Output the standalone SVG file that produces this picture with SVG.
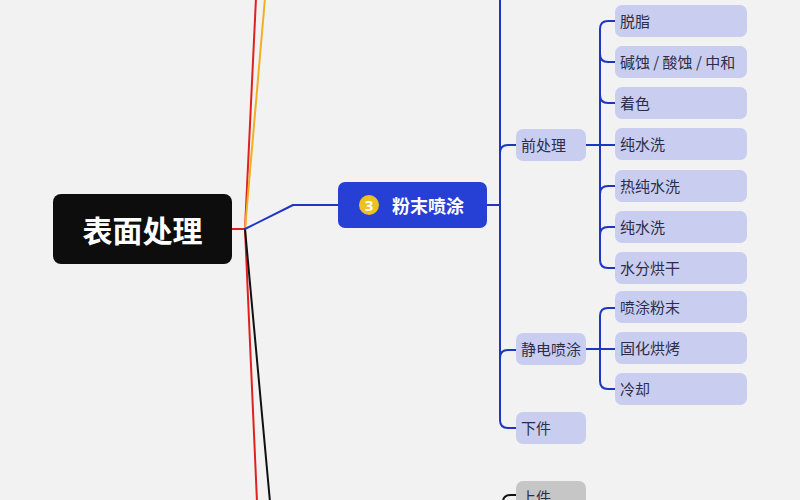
<svg xmlns="http://www.w3.org/2000/svg" width="800" height="500" viewBox="0 0 800 500">
<style>
.c{fill:none;stroke-width:2;stroke-linecap:round;stroke-linejoin:round}
.b{stroke:#1f35c4}
.t{font-family:"Noto Sans CJK SC","Noto Sans",sans-serif;font-size:15px;fill:#2b2d4a;dominant-baseline:central}
.n{fill:#c9cdef}
</style>
<rect width="800" height="500" fill="#f2f2f2"/>
<g id="connectors">
<path class="c" stroke="#e02020" d="M232 229 L245 229 L256 -2"/>
<path class="c" stroke="#f0b020" d="M245 229 L265 -2"/>
<path class="c" stroke="#e02020" d="M245 229 L257 502"/>
<path class="c" stroke="#111" d="M245 229 L270 502"/>
<path class="c b" d="M245 229 L293 205 L338 205"/>
<path class="c b" d="M487 205 L500 205"/>
<path class="c b" d="M500 -2 L500 420 Q500 428 508 428 L516 428"/>
<path class="c b" d="M500 153 Q500 145 508 145 L516 145"/>
<path class="c b" d="M500 358 Q500 350 508 350 L516 350"/>
<path class="c b" d="M586 145 L615 145"/>
<path class="c b" d="M615 21 L608 21 Q600 21 600 29 L600 260 Q600 268 608 268 L615 268"/>
<path class="c b" d="M600 54 Q600 62 608 62 L615 62"/>
<path class="c b" d="M600 95 Q600 103 608 103 L615 103"/>
<path class="c b" d="M600 194 Q600 186 608 186 L615 186"/>
<path class="c b" d="M600 235 Q600 227 608 227 L615 227"/>
<path class="c b" d="M586 349 L615 349"/>
<path class="c b" d="M615 308 L608 308 Q600 308 600 316 L600 381 Q600 389 608 389 L615 389"/>
<path class="c" stroke="#111" d="M503 502 Q503 495 511 495 L516 495"/>
</g>
<g id="root">
<rect x="53" y="194" width="179" height="70" rx="8" fill="#0d0d0d"/>
<text x="142.5" y="229" text-anchor="middle" dominant-baseline="central" font-family="Noto Sans CJK SC,sans-serif" font-weight="bold" font-size="30" fill="#fff">表面处理</text>
</g>
<g id="n3">
<rect x="338" y="182" width="149" height="46" rx="7" fill="#2640d6"/>
<circle cx="369" cy="205" r="10" fill="#ecc21c"/>
<text x="369" y="205" text-anchor="middle" dominant-baseline="central" font-family="Noto Sans,sans-serif" font-weight="bold" font-size="15" fill="#fff">3</text>
<text x="392" y="204.5" dominant-baseline="central" font-family="Noto Sans CJK SC,sans-serif" font-weight="bold" font-size="18" fill="#fff">粉末喷涂</text>
</g>
<g id="qianchuli"><rect class="n" x="516" y="129" width="70" height="32" rx="7"/><text class="t" x="521" y="144">前处理</text></g>
<g id="jingdian"><rect class="n" x="516" y="333" width="70" height="32" rx="7"/><text class="t" x="521" y="348">静电喷涂</text></g>
<g id="xiajian"><rect class="n" x="516" y="412" width="70" height="32" rx="7"/><text class="t" x="521" y="427">下件</text></g>
<g id="shangjian"><rect x="516" y="481" width="70" height="32" rx="7" fill="#c6c6c6"/><text class="t" x="521" y="496">上件</text></g>
<g id="tuozhi"><rect class="n" x="615" y="5" width="132" height="32" rx="7"/><text class="t" x="620" y="20">脱脂</text></g>
<g id="jianshi"><rect class="n" x="615" y="46" width="132" height="32" rx="7"/><text class="t" x="620" y="61">碱蚀 / 酸蚀 / 中和</text></g>
<g id="zhuose"><rect class="n" x="615" y="87" width="132" height="32" rx="7"/><text class="t" x="620" y="102">着色</text></g>
<g id="chunshui1"><rect class="n" x="615" y="128" width="132" height="32" rx="7"/><text class="t" x="620" y="143">纯水洗</text></g>
<g id="rechunshui"><rect class="n" x="615" y="170" width="132" height="32" rx="7"/><text class="t" x="620" y="185">热纯水洗</text></g>
<g id="chunshui2"><rect class="n" x="615" y="211" width="132" height="32" rx="7"/><text class="t" x="620" y="226">纯水洗</text></g>
<g id="hongan"><rect class="n" x="615" y="252" width="132" height="32" rx="7"/><text class="t" x="620" y="267">水分烘干</text></g>
<g id="pentu"><rect class="n" x="615" y="291" width="132" height="32" rx="7"/><text class="t" x="620" y="306">喷涂粉末</text></g>
<g id="guhua"><rect class="n" x="615" y="332" width="132" height="32" rx="7"/><text class="t" x="620" y="347">固化烘烤</text></g>
<g id="lengque"><rect class="n" x="615" y="373" width="132" height="32" rx="7"/><text class="t" x="620" y="388">冷却</text></g>
</svg>
